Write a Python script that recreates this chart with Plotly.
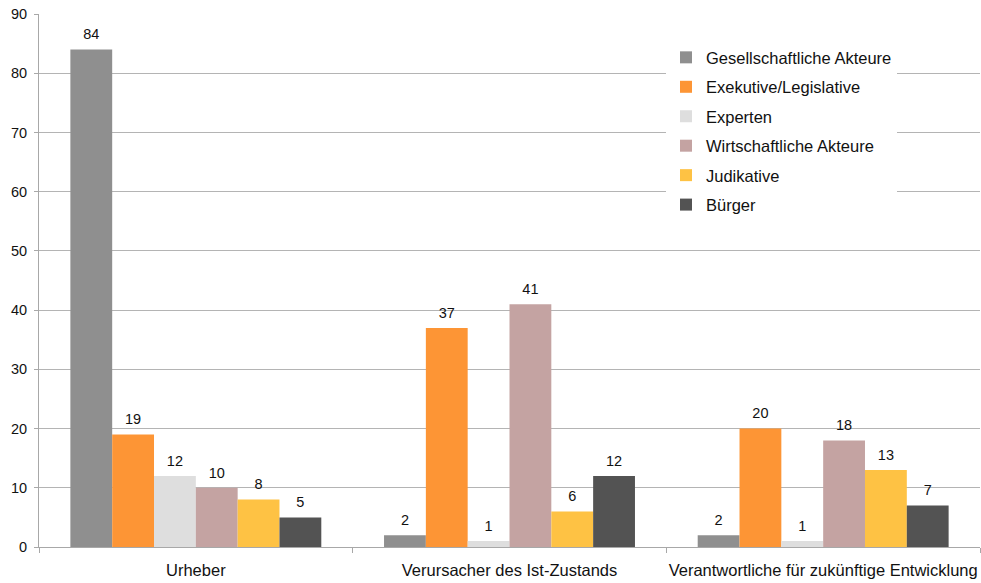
import plotly.graph_objects as go

categories = ["Urheber", "Verursacher des Ist-Zustands", "Verantwortliche für zukünftige Entwicklung"]
series_names = ["Gesellschaftliche Akteure", "Exekutive/Legislative", "Experten",
                "Wirtschaftliche Akteure", "Judikative", "Bürger"]
gesellschaftliche = [84, 2, 2]
exekutive = [19, 37, 20]
experten = [12, 1, 1]
wirtschaftliche = [10, 41, 18]
judikative = [8, 6, 13]
buerger = [5, 12, 7]
series_values = [gesellschaftliche, exekutive, experten, wirtschaftliche, judikative, buerger]
colors = ["#8f8f8f", "#fd9535", "#dedede", "#c4a3a2", "#fec244", "#535353"]
y_ticks = list(range(0, 91, 10))

FONT = "Liberation Sans, Arial, Helvetica, sans-serif"

fig = go.Figure()
for i, (name, vals, col) in enumerate(zip(series_names, series_values, colors)):
    fig.add_trace(go.Bar(
        x=categories, y=vals, name=name, marker_color=col,
        marker_line_width=0, legendgroup=f"g{i}",
        offsetgroup=f"o{i}",
    ))
# value labels as grouped text scatter traces aligned with bars
for i, (name, vals) in enumerate(zip(series_names, series_values)):
    fig.add_trace(go.Scatter(
        x=categories, y=vals, mode="markers+text", text=[str(v) for v in vals],
        marker=dict(size=9, opacity=0),
        textposition="top center", showlegend=False, hoverinfo="skip",
        textfont=dict(size=14.5, color="#111111", family=FONT),
        cliponaxis=False, offsetgroup=f"o{i}",
    ))

plot_w = 981 - 39 - 1
fig.update_layout(
    width=981, height=583,
    margin=dict(l=39, r=1, t=14, b=36, autoexpand=False),
    paper_bgcolor="white", plot_bgcolor="white",
    barmode="group", bargap=0.2, bargroupgap=0,
    scattermode="group", scattergap=0.2,
    font=dict(family=FONT, color="#111111"),
    showlegend=True,
    legend=dict(
        x=(666 - 39) / plot_w, y=0.951, yanchor="top", xanchor="left",
        bgcolor="white", borderwidth=0,
        font=dict(size=16.5, family=FONT, color="#111111"),
        tracegroupgap=5, traceorder="grouped",
    ),
)

fig.update_yaxes(
    range=[0, 90], tickvals=y_ticks, showgrid=True, gridcolor="#b4b4b4", gridwidth=1,
    showline=True, linecolor="#a8a8a8", linewidth=1,
    ticks="outside", ticklen=4, tickcolor="#a8a8a8",
    tickfont=dict(size=14.5, family=FONT, color="#111111"),
    ticklabelstandoff=4, zeroline=False, automargin=False,
)
fig.update_xaxes(
    showline=True, linecolor="#a8a8a8", linewidth=1,
    ticks="outside", ticklen=5, tickcolor="#a8a8a8", tickson="boundaries",
    tickangle=0, automargin=False, ticklabelstandoff=8,
    tickfont=dict(size=16.5, family=FONT, color="#111111"),
)

fig.write_html("out.html")
